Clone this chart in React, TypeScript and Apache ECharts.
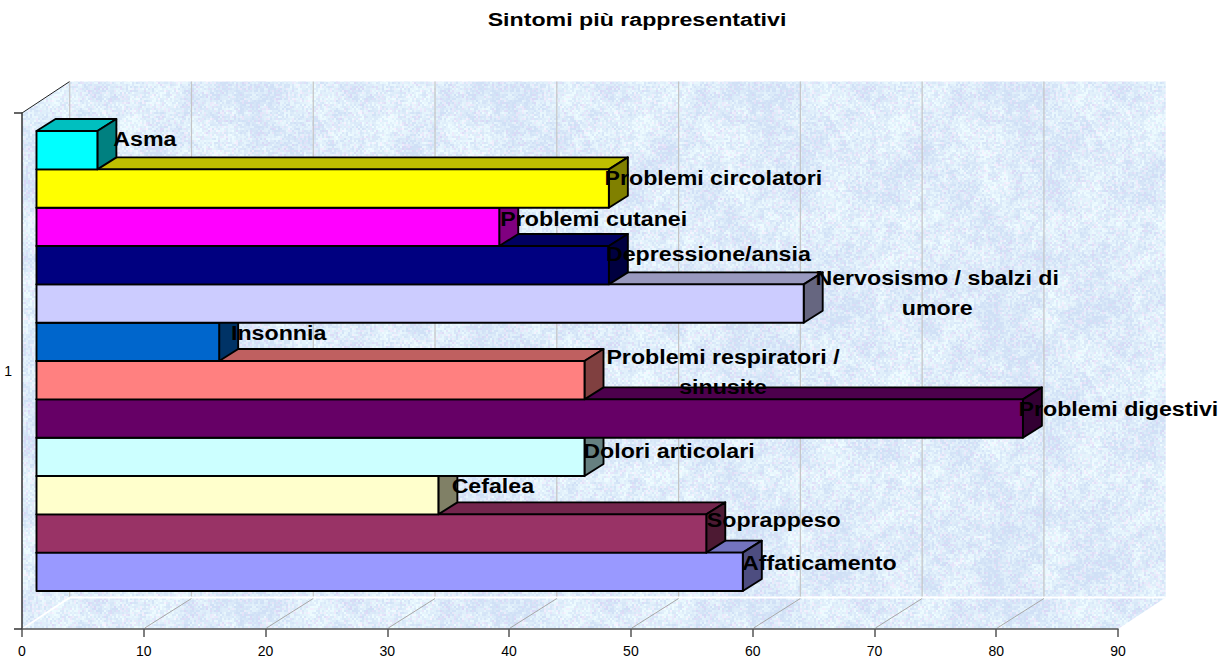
import React, { useEffect, useRef } from "react";
import * as echarts from "echarts";

const titleText = "Sintomi più rappresentativi";
const axisCategories = ["1"];
const tickValues = [0, 10, 20, 30, 40, 50, 60, 70, 80, 90];

// listed from the bottom bar to the top bar
const symptoms = [
  "Affaticamento",
  "Soprappeso",
  "Cefalea",
  "Dolori articolari",
  "Problemi digestivi",
  "Problemi respiratori /\nsinusite",
  "Insonnia",
  "Nervosismo / sbalzi di\numore",
  "Depressione/ansia",
  "Problemi cutanei",
  "Problemi circolatori",
  "Asma",
];
const counts = [58, 55, 33, 45, 81, 45, 15, 63, 47, 38, 47, 5];
const barColors = [
  "#9999ff", "#993366", "#ffffcc", "#ccffff", "#660066", "#ff8080",
  "#0066cc", "#ccccff", "#000080", "#ff00ff", "#ffff00", "#00ffff",
];

// label centre relative to the end of the bar's front face
const labelShiftX = [77, 68, 55, 85, 96, 139, 60, 134, 100, 95, 105, 48];
const labelShiftY = [-9, -13, -9, -6, -9, -8, -9, -10, -11, -8, -10, -11];

const FONT = '"Liberation Sans", Arial, sans-serif';
const WALL_DX = 47.7;
const WALL_DY = -31.5;
const BAR_DX = 19;
const BAR_DY = -12;
const FRONT_X = 14.5;
const SLOT_H = 38.33;
const FIRST_BOTTOM = 220; // below the centre of the band

function shade(hex: string, k: number) {
  const n = parseInt(hex.slice(1), 16);
  const c = (s: number) => Math.round(((n >> s) & 255) * k);
  return `rgb(${c(16)},${c(8)},${c(0)})`;
}

function makeTexture() {
  const size = 256;
  const cv = document.createElement("canvas");
  cv.width = size;
  cv.height = size;
  const ctx = cv.getContext("2d")!;
  let seed = 20231;
  const next = () => {
    seed = (seed * 1664525 + 1013904223) >>> 0;
    return seed / 4294967296;
  };
  const cell = 2;
  const n = size / cell;
  const grid = (step: number) => {
    const g: number[] = [];
    const m = Math.ceil(n / step);
    for (let i = 0; i < m * m; i++) g.push(next());
    return (x: number, y: number) => {
      const fx = x / step, fy = y / step;
      const x0 = Math.floor(fx), y0 = Math.floor(fy);
      const tx = fx - x0, ty = fy - y0;
      const at = (a: number, b: number) => g[((b + m) % m) * m + ((a + m) % m)];
      return (
        (at(x0, y0) * (1 - tx) + at(x0 + 1, y0) * tx) * (1 - ty) +
        (at(x0, y0 + 1) * (1 - tx) + at(x0 + 1, y0 + 1) * tx) * ty
      );
    };
  };
  const blotch = grid(16);
  const mid = grid(4);
  for (let y = 0; y < n; y++) {
    for (let x = 0; x < n; x++) {
      const v = next() * 0.4 + mid(x, y) * 0.3 + blotch(x, y) * 0.3;
      const t = Math.min(1, Math.max(0, (v - 0.25) / 0.5));
      const pink = next();
      const isPink = pink > 0.85;
      const r = 208 + t * 30 + (isPink ? 8 : 0);
      const g = 224 + t * 28 - (isPink ? 8 : 0);
      const b = 246 + t * 9;
      ctx.fillStyle = `rgb(${r | 0},${g | 0},${b | 0})`;
      ctx.fillRect(x * cell, y * cell, cell, cell);
    }
  }
  return cv;
}

export default function App() {
  const ref = useRef<HTMLDivElement>(null);
  useEffect(() => {
    document.body.style.margin = "0";
    const chart = echarts.init(ref.current!, null, { renderer: "svg" });
    const texture = {
      image: makeTexture(),
      repeat: "repeat",
      imageWidth: 256,
      imageHeight: 256,
    };

    const rows = counts.map((v) => [v, 0]);

    chart.setOption({
      animation: false,
      backgroundColor: "#ffffff",
      graphic: [
        {
          type: "text",
          x: 637,
          y: 19,
          scaleX: 1.22,
          style: {
            text: titleText,
            align: "center",
            verticalAlign: "middle",
            font: `bold 19px ${FONT}`,
            fill: "#000",
          },
        },
      ],
      grid: { left: 22, right: 114, top: 113, bottom: 32 },
      xAxis: {
        type: "value",
        min: 0,
        max: 90,
        interval: 10,
        z: 6,
        splitLine: { show: false },
        axisLine: { show: true, lineStyle: { color: "#555", width: 1.5 } },
        axisTick: { show: true, length: 8, lineStyle: { color: "#555", width: 1.5 } },
        axisLabel: { margin: 15, fontSize: 14, color: "#000", fontFamily: FONT },
      },
      yAxis: {
        type: "category",
        data: axisCategories,
        z: 6,
        axisLine: { show: true, lineStyle: { color: "#333", width: 1.5 } },
        axisTick: { show: true, length: 8, lineStyle: { color: "#333", width: 1.5 } },
        axisLabel: { margin: 10, fontSize: 14, color: "#000", fontFamily: FONT },
      },
      series: [
        {
          type: "custom",
          name: "walls",
          z: 1,
          silent: true,
          data: tickValues.map((t) => [t, 0]),
          encode: { x: 0, y: 1 },
          renderItem(params: any, api: any) {
            const cs = params.coordSys;
            const x0 = cs.x, x1 = cs.x + cs.width;
            const yT = cs.y, yB = cs.y + cs.height;
            const x = api.coord([api.value(0), 0])[0];
            const kids: any[] = [];
            if (params.dataIndex === 0) {
              kids.push(
                {
                  type: "polygon",
                  shape: { points: [[x0 + WALL_DX, yT + WALL_DY], [x1 + WALL_DX, yT + WALL_DY], [x1 + WALL_DX, yB + WALL_DY], [x0 + WALL_DX, yB + WALL_DY]] },
                  style: { fill: texture },
                },
                {
                  type: "polygon",
                  shape: { points: [[x0, yT], [x0 + WALL_DX, yT + WALL_DY], [x0 + WALL_DX, yB + WALL_DY], [x0, yB]] },
                  style: { fill: texture },
                },
                {
                  type: "polygon",
                  shape: { points: [[x0, yB], [x1, yB], [x1 + WALL_DX, yB + WALL_DY], [x0 + WALL_DX, yB + WALL_DY]] },
                  style: { fill: texture },
                },
                {
                  type: "line",
                  shape: { x1: x0, y1: yT, x2: x0 + WALL_DX, y2: yT + WALL_DY },
                  style: { stroke: "#222", lineWidth: 1 },
                },
                {
                  type: "line",
                  shape: { x1: x0 + WALL_DX, y1: yB + WALL_DY, x2: x1 + WALL_DX, y2: yB + WALL_DY },
                  style: { stroke: "#fff", lineWidth: 2 },
                },
                {
                  type: "line",
                  shape: { x1: x0, y1: yB, x2: x0 + WALL_DX, y2: yB + WALL_DY },
                  style: { stroke: "#fff", lineWidth: 2 },
                }
              );
            }
            if (api.value(0) < 90) {
              kids.push({
                type: "line",
                shape: { x1: x + WALL_DX, y1: yT + WALL_DY, x2: x + WALL_DX, y2: yB + WALL_DY - 1 },
                style: { stroke: "#c4c4c4", lineWidth: 1.2 },
              });
            }
            if (api.value(0) > 0 && api.value(0) < 90) {
              kids.push({
                type: "line",
                shape: { x1: x + 1, y1: yB - 1, x2: x + WALL_DX, y2: yB + WALL_DY + 1 },
                style: { stroke: "#a8a8a8", lineWidth: 1 },
              });
            }
            return { type: "group", children: kids };
          },
        },
        {
          type: "custom",
          name: "bars",
          z: 3,
          silent: true,
          data: rows,
          encode: { x: 0, y: 1 },
          renderItem(params: any, api: any) {
            const i = params.dataIndex;
            const end = api.coord([api.value(0), 0]);
            const start = api.coord([0, 0]);
            const xL = start[0] + FRONT_X;
            const xR = end[0] + FRONT_X;
            const yB = end[1] + FIRST_BOTTOM - i * SLOT_H;
            const yT = yB - SLOT_H;
            const col = barColors[i];
            const line = { stroke: "#000", lineWidth: 1.9, lineJoin: "round" };
            return {
              type: "group",
              children: [
                {
                  type: "polygon",
                  shape: { points: [[xL, yT], [xL + BAR_DX, yT + BAR_DY], [xR + BAR_DX, yT + BAR_DY], [xR, yT]] },
                  style: { fill: shade(col, 0.75), ...line },
                },
                {
                  type: "polygon",
                  shape: { points: [[xR, yT], [xR + BAR_DX, yT + BAR_DY], [xR + BAR_DX, yB + BAR_DY], [xR, yB]] },
                  style: { fill: shade(col, 0.5), ...line },
                },
                {
                  type: "rect",
                  shape: { x: xL, y: yT, width: xR - xL, height: yB - yT },
                  style: { fill: col, ...line },
                },
              ],
            };
          },
        },
        {
          type: "custom",
          name: "labels",
          z: 5,
          silent: true,
          data: rows,
          encode: { x: 0, y: 1 },
          renderItem(params: any, api: any) {
            const i = params.dataIndex;
            const end = api.coord([api.value(0), 0]);
            const xR = end[0] + 14;
            const yMid = end[1] + FIRST_BOTTOM - (i + 0.5) * SLOT_H;
            return {
              type: "text",
              x: xR + labelShiftX[i],
              y: yMid + labelShiftY[i],
              scaleX: 1.16,
              style: {
                text: symptoms[i],
                align: "center",
                verticalAlign: "middle",
                font: `bold 20px ${FONT}`,
                lineHeight: 30,
                fill: "#000",
              },
            };
          },
        },
      ],
    });
    return () => chart.dispose();
  }, []);
  return (
    <div
      ref={ref}
      style={{ position: "fixed", left: 0, top: 0, width: 1232, height: 661 }}
    />
  );
}
